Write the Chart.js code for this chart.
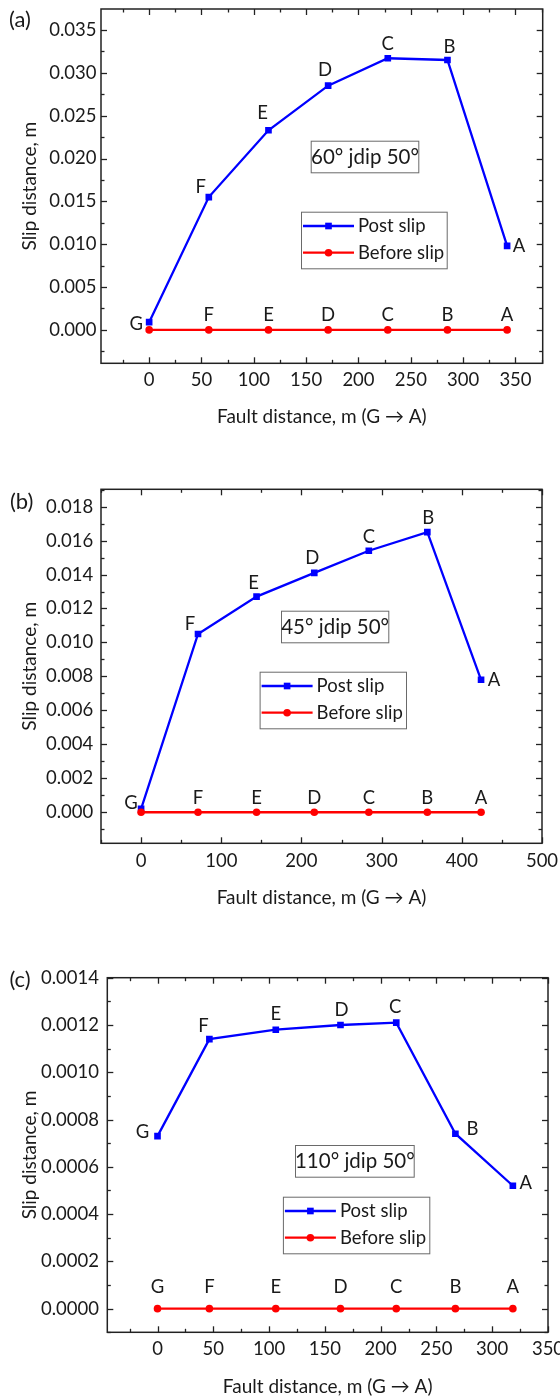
<!DOCTYPE html>
<html>
<head>
<meta charset="utf-8">
<script src="https://cdn.jsdelivr.net/npm/chart.js@4.4.1/dist/chart.umd.min.js"></script>
<style>
  html, body { margin: 0; padding: 0; background: #ffffff; }
  #wrap { position: relative; width: 560px; height: 1397px; overflow: hidden; }
  #wrap canvas { position: absolute; left: 0; }
</style>
</head>
<body>
<div id="wrap">
  <canvas id="chartA" width="560" height="440" style="top:0px"></canvas>
  <canvas id="chartB" width="560" height="470" style="top:440px"></canvas>
  <canvas id="chartC" width="560" height="487" style="top:910px"></canvas>
</div>
<script>
// ---- point names along the fault, G -> A ----
const pointNames = ['G', 'F', 'E', 'D', 'C', 'B', 'A'];

// ---- (a) 60° jdip 50° ----
const distA       = [0, 57, 114, 171, 228, 285, 342];
const postSlipA   = [0.0009, 0.0155, 0.0233, 0.0285, 0.0317, 0.0315, 0.0098];
const beforeSlipA = [0, 0, 0, 0, 0, 0, 0];
const xTicksA     = ['0', '50', '100', '150', '200', '250', '300', '350'];
const yTicksA     = ['0.000', '0.005', '0.010', '0.015', '0.020', '0.025', '0.030', '0.035'];

// ---- (b) 45° jdip 50° ----
const distB       = [0, 71, 144, 216, 284, 357, 424];
const postSlipB   = [0.0002, 0.0105, 0.0127, 0.0141, 0.0154, 0.0165, 0.0078];
const beforeSlipB = [0, 0, 0, 0, 0, 0, 0];
const xTicksB     = ['0', '100', '200', '300', '400', '500'];
const yTicksB     = ['0.000', '0.002', '0.004', '0.006', '0.008', '0.010', '0.012', '0.014', '0.016', '0.018'];

// ---- (c) 110° jdip 50° ----
const distC       = [0, 46.5, 106, 164, 214, 267, 318.5];
const postSlipC   = [0.00073, 0.00114, 0.00118, 0.0012, 0.00121, 0.00074, 0.00052];
const beforeSlipC = [0, 0, 0, 0, 0, 0, 0];
const xTicksC     = ['0', '50', '100', '150', '200', '250', '300', '350'];
const yTicksC     = ['0.0000', '0.0002', '0.0004', '0.0006', '0.0008', '0.0010', '0.0012', '0.0014'];

const TEXT = '#1a1a1a';
const AXIS = '#222222';
const FONT = 'Lato, "Open Sans", "DejaVu Sans", sans-serif';
const BLUE = '#0000ff';
const RED = '#ff0000';
const TICK_SIZE = 18.5;
const TITLE_SIZE = 19;
const CAPTION_SIZE = 20.5;

Chart.defaults.font.family = FONT;
Chart.defaults.color = TEXT;

function buildPanel(id, p) {
  const xVals = p.xTicks.map(Number);
  const yVals = p.yTicks.map(Number);
  const labelFor = (vals, labels, v) => {
    const i = vals.findIndex(t => Math.abs(t - v) < 1e-12);
    return i < 0 ? '' : labels[i];
  };
  const canvas = document.getElementById(id);
  const H = canvas.height;
  const plot = p.plot;

  const series = [
    { label: 'Post slip', y: p.post, color: BLUE, style: 'rect', radius: 4.7, names: p.postNames, offsets: p.postOffsets, order: 1 },
    { label: 'Before slip', y: p.before, color: RED, style: 'circle', radius: 3.8, names: p.beforeNames, offsets: p.beforeOffsets, order: 0 }
  ];

  // minor ticks sit half-way between the majors
  function tickMarks(vals, min, max) {
    const half = (vals[1] - vals[0]) / 2;
    const out = [];
    let v = vals[0] - Math.floor((vals[0] - min) / half + 1e-9) * half;
    for (; v <= max + half * 1e-6; v += half) {
      const major = vals.some(t => Math.abs(t - v) < half * 1e-3);
      out.push([v, major]);
    }
    return out;
  }

  const decor = {
    id: 'decor-' + id,
    afterDatasetsDraw(chart) {
      const { ctx, chartArea: a, scales: { x, y } } = chart;
      ctx.save();
      // inward tick marks on all four sides
      ctx.strokeStyle = AXIS;
      ctx.lineWidth = 1.3;
      const seg = (x1, y1, x2, y2) => { ctx.beginPath(); ctx.moveTo(x1, y1); ctx.lineTo(x2, y2); ctx.stroke(); };
      tickMarks(xVals, x.min, x.max).forEach(([v, major]) => {
        const px = Math.round(x.getPixelForValue(v)) + 0.5;
        const L = major ? 6 : 3.5;
        seg(px, a.bottom, px, a.bottom - L);
        seg(px, a.top, px, a.top + L);
      });
      tickMarks(yVals, y.min, y.max).forEach(([v, major]) => {
        const py = Math.round(y.getPixelForValue(v)) + 0.5;
        const L = major ? 6 : 3.5;
        seg(a.left, py, a.left + L, py);
        seg(a.right, py, a.right - L, py);
      });
      // frame
      ctx.lineWidth = 1.5;
      ctx.strokeRect(a.left, a.top, a.width, a.height);

      // point names next to each marker
      ctx.fillStyle = TEXT;
      ctx.font = TICK_SIZE + 'px ' + FONT;
      ctx.textAlign = 'center';
      ctx.textBaseline = 'middle';
      series.forEach((s, di) => {
        const meta = chart.getDatasetMeta(di);
        meta.data.forEach((pt, j) => {
          const name = s.names[j];
          if (!name) return;
          const [dx, dy] = s.offsets[j];
          ctx.fillText(name, pt.x + dx, pt.y + dy);
        });
      });

      // case caption box
      const c = p.caption;
      ctx.strokeStyle = '#6a6a6a';
      ctx.lineWidth = 1;
      ctx.strokeRect(c.x + 0.5, c.y + 0.5, c.w, c.h);
      ctx.font = CAPTION_SIZE + 'px ' + FONT;
      ctx.fillStyle = TEXT;
      ctx.fillText(c.text, c.x + c.w / 2 + 0.5, c.y + c.h / 2 + 1);

      // legend box
      const L = p.legend;
      ctx.strokeStyle = '#6a6a6a';
      ctx.strokeRect(L.x + 0.5, L.y + 0.5, L.w, L.h);
      ctx.font = TICK_SIZE + 'px ' + FONT;
      ctx.textAlign = 'left';
      series.forEach((s, i) => {
        const ry = L.y + 14.3 + i * 26.7;
        ctx.strokeStyle = s.color;
        ctx.lineWidth = 2.3;
        seg(L.x + 2, ry, L.x + 53, ry);
        ctx.fillStyle = s.color;
        Chart.helpers.drawPoint(ctx, { pointStyle: s.style, radius: s.radius, rotation: 0, borderWidth: 0 }, L.x + 27.5, ry);
        ctx.fillStyle = TEXT;
        ctx.fillText(s.label, L.x + 57, ry + 0.5);
      });

      // panel tag
      ctx.font = '22px ' + FONT;
      ctx.textAlign = 'center';
      ctx.fillStyle = TEXT;
      ctx.fillText(p.tag.text, p.tag.x, p.tag.y);
      ctx.restore();
    }
  };

  return new Chart(canvas, {
    type: 'line',
    data: {
      datasets: series.map(s => ({
        label: s.label,
        data: p.dist.map((d, i) => ({ x: d, y: s.y[i] })),
        borderColor: s.color,
        backgroundColor: s.color,
        borderWidth: 2.3,
        pointStyle: s.style,
        pointRadius: s.radius,
        pointBorderWidth: 0,
        pointBackgroundColor: s.color,
        tension: 0,
        order: s.order
      }))
    },
    options: {
      responsive: false,
      animation: false,
      devicePixelRatio: 1,
      layout: { padding: { left: 0, top: plot.top, right: 560 - plot.right, bottom: 0 } },
      plugins: { legend: { display: false }, tooltip: { enabled: false } },
      scales: {
        x: {
          type: 'linear',
          min: p.xRange[0],
          max: p.xRange[1],
          grid: { display: false, drawTicks: false },
          border: { display: false },
          afterBuildTicks: s => { s.ticks = xVals.map(v => ({ value: v })); },
          ticks: {
            autoSkip: false,
            maxRotation: 0,
            padding: p.xLabelPad,
            font: { size: TICK_SIZE },
            color: TEXT,
            callback: v => labelFor(xVals, p.xTicks, v)
          },
          title: {
            display: true,
            text: 'Fault distance, m (G \u2192 A)',
            font: { size: TITLE_SIZE, lineHeight: 1.1 },
            color: TEXT,
            padding: { top: 0, bottom: p.xTitlePad }
          },
          afterFit: s => { s.height = H - plot.bottom; s.paddingLeft = 0; s.paddingRight = 0; }
        },
        y: {
          type: 'linear',
          min: p.yRange[0],
          max: p.yRange[1],
          grid: { display: false, drawTicks: false },
          border: { display: false },
          afterBuildTicks: s => { s.ticks = yVals.map(v => ({ value: v })); },
          ticks: {
            autoSkip: false,
            padding: p.yLabelPad,
            font: { size: TICK_SIZE },
            color: TEXT,
            callback: v => labelFor(yVals, p.yTicks, v)
          },
          title: {
            display: true,
            text: 'Slip distance, m',
            font: { size: TITLE_SIZE, lineHeight: 1.1 },
            color: TEXT,
            padding: { top: 19.5, bottom: 0 }
          },
          afterFit: s => { s.width = plot.left; s.paddingTop = 0; s.paddingBottom = 0; }
        }
      }
    },
    plugins: [decor]
  });
}

buildPanel('chartA', {
  dist: distA, post: postSlipA, before: beforeSlipA,
  xTicks: xTicksA, yTicks: yTicksA,
  xRange: [-46, 376], yRange: [-0.0039, 0.03745],
  plot: { left: 101, top: 9, right: 542.7, bottom: 363.3 },
  yLabelPad: 4.5, xLabelPad: 5.6, xTitlePad: 12.5,
  postNames: pointNames, postOffsets: [[-13, 2], [-8, -10], [-6, -17], [-3, -16], [0, -14], [2, -13], [12, 0]],
  beforeNames: ['', 'F', 'E', 'D', 'C', 'B', 'A'], beforeOffsets: Array(7).fill([0, -15]),
  caption: { x: 310.7, y: 140.7, w: 107.6, h: 31.6, text: '60° jdip 50°' },
  legend: { x: 301, y: 211.7, w: 145.7, h: 56.6 },
  tag: { text: '(a)', x: 20, y: 20 }
});

buildPanel('chartB', {
  dist: distB, post: postSlipB, before: beforeSlipB,
  xTicks: xTicksB, yTicks: yTicksB,
  xRange: [-50, 500], yRange: [-0.00183, 0.01902],
  plot: { left: 101, top: 49.3, right: 542, bottom: 403.3 },
  yLabelPad: 7.7, xLabelPad: 6.6, xTitlePad: 1.25,
  postNames: pointNames, postOffsets: [[-10, -6], [-8, -10], [-3, -14], [-2, -15], [0, -14], [1, -14], [13, 0]],
  beforeNames: ['', 'F', 'E', 'D', 'C', 'B', 'A'], beforeOffsets: Array(7).fill([0, -14]),
  caption: { x: 281, y: 170.7, w: 107.3, h: 31.6, text: '45° jdip 50°' },
  legend: { x: 259.6, y: 231.7, w: 146.4, h: 56.6 },
  tag: { text: '(b)', x: 21.7, y: 61.7 }
});

buildPanel('chartC', {
  dist: distC, post: postSlipC, before: beforeSlipC,
  xTicks: xTicksC, yTicks: yTicksC,
  xRange: [-45, 350], yRange: [-0.0001, 0.0014],
  plot: { left: 107.3, top: 67.7, right: 548, bottom: 422.3 },
  yLabelPad: 8.3, xLabelPad: 5.9, xTitlePad: 0,
  postNames: pointNames, postOffsets: [[-15, -4], [-6, -13], [0, -16], [1, -15], [-1, -16], [17, -5], [13, -3]],
  beforeNames: pointNames, beforeOffsets: Array(7).fill([0, -22]),
  caption: { x: 295, y: 235, w: 118.7, h: 31.7, text: '110° jdip 50°' },
  legend: { x: 282.9, y: 286.7, w: 146.4, h: 56.6 },
  tag: { text: '(c)', x: 20, y: 70 }
});
</script>
</body>
</html>
